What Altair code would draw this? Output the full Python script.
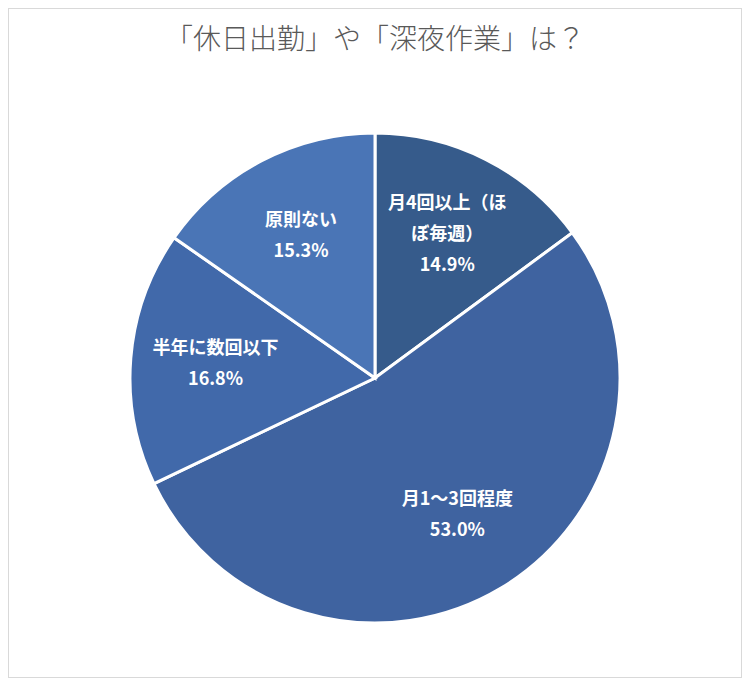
import altair as alt
import pandas as pd

categories = ["月4回以上（ほぼ毎週）", "月1～3回程度", "半年に数回以下", "原則ない"]
label_lines = [["月4回以上（ほ", "ぼ毎週）"], ["月1～3回程度"], ["半年に数回以下"], ["原則ない"]]
values = [14.9, 53.0, 16.8, 15.3]
colors = ["#365b8b", "#3f63a0", "#4169aa", "#4a75b6"]
title_text = "「休日出勤」や「深夜作業」は？"

df = pd.DataFrame({
    "cat": categories,
    "val": values,
    "idx": list(range(len(categories))),
    "nlines": [len(l) + 1 for l in label_lines],
    "label": ["\n".join(l + [f"{v:.1f}%"]) for l, v in zip(label_lines, values)],
})

W, H = 734, 670
CX, CY = 367, 370
LH = 31

base = alt.Chart(df).encode(
    theta=alt.Theta("val:Q", stack=True),
    order=alt.Order("idx:O"),
)

pie = base.mark_arc(radius=245, stroke="white", strokeWidth=3).encode(
    x=alt.value(CX), y=alt.value(CY),
    color=alt.Color("cat:N", scale=alt.Scale(domain=categories, range=colors), legend=None),
)

def label_layer(n):
    return base.mark_text(
        radius=160, fontSize=18, fontWeight="bold", color="white",
        font="Noto Sans CJK JP", lineBreak="\n", lineHeight=LH,
        align="center", baseline="middle", dy=-LH * (n - 1) / 2,
    ).encode(
        x=alt.value(CX), y=alt.value(CY), text="label:N",
        opacity=alt.condition(f"datum.nlines == {n}", alt.value(1), alt.value(0)),
    )

labels2 = label_layer(2)
labels3 = label_layer(3)

title_df = pd.DataFrame({"t": [title_text]})
title = alt.Chart(title_df).mark_text(
    fontSize=28, color="#595959", font="Noto Sans CJK JP", fontWeight=300,
    align="center", baseline="middle",
).encode(x=alt.value(CX), y=alt.value(33), text="t:N")

border = alt.Chart(title_df).mark_rect(fillOpacity=0, stroke="#d9d9d9", strokeWidth=2).encode(
    x=alt.value(0), x2=alt.value(W), y=alt.value(0), y2=alt.value(H)
)

chart = alt.layer(border, pie, labels2, labels3, title).properties(
    width=W, height=H, padding=0,
    autosize=alt.AutoSizeParams(type="none"),
    background="white",
).configure_view(strokeWidth=0)

chart.save("out.html", embed_options={"renderer": "svg", "actions": False})
